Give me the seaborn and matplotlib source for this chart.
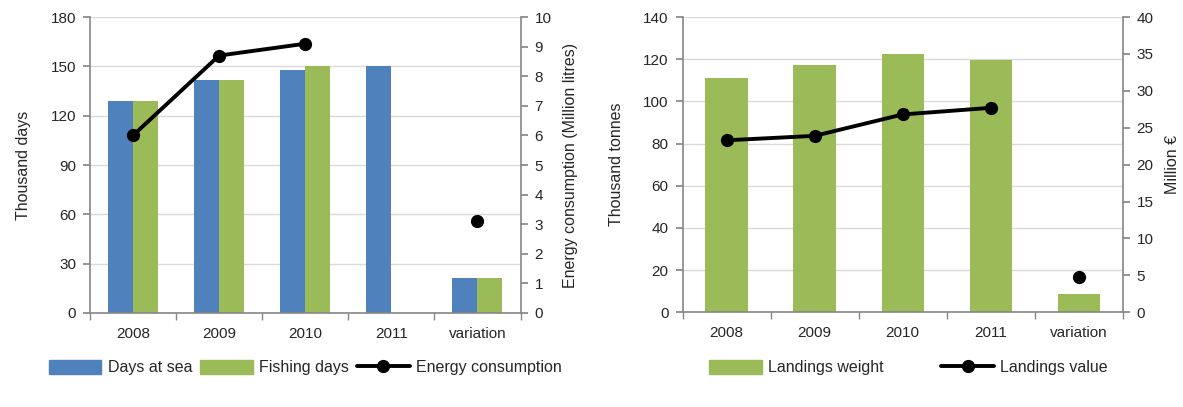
import numpy as np
import pandas as pd
import seaborn as sns
import matplotlib.pyplot as plt
from matplotlib.lines import Line2D
from matplotlib.patches import Patch

# data
categories = ['2008', '2009', '2010', '2011', 'variation']
days_at_sea = [129, 142, 148, 150, 21]
fishing_days = [129, 142, 150, np.nan, 21]
energy = [6.0, 8.7, 9.1, np.nan, np.nan]
energy_variation = 3.1

landings_weight = [111, 117.5, 122.5, 119.5, 8.5]
landings_value = [23.3, 23.9, 26.8, 27.7, np.nan]
value_variation = 4.7

blue = '#4F81BD'
green = '#9BBB59'
grid_col = '#D9D9D9'
spine_col = '#868686'

sns.set_theme(style='white')
plt.rcParams['font.family'] = ['Liberation Sans', 'DejaVu Sans']
plt.rcParams['font.size'] = 11

fig = plt.figure(figsize=(11.83, 4.07), dpi=100)
ax1 = fig.add_axes([0.076, 0.231, 0.364, 0.727])
ax3 = fig.add_axes([0.577, 0.233, 0.372, 0.725])


def style_axes(ax, ax2):
    ax.set_xlim(-0.5, 4.5)
    ax.grid(axis='y', color=grid_col, linewidth=1)
    ax.set_axisbelow(True)
    for s in ['top', 'right']:
        ax.spines[s].set_visible(False)
    for s in ['left', 'bottom']:
        ax.spines[s].set_color(spine_col)
        ax.spines[s].set_linewidth(1.2)
    for s in ['top', 'left', 'bottom']:
        ax2.spines[s].set_visible(False)
    ax2.spines['right'].set_color(spine_col)
    ax2.spines['right'].set_linewidth(1.2)
    ax.tick_params(axis='y', direction='out', length=5, color=spine_col,
                   left=True, labelsize=11, pad=5)
    ax2.tick_params(axis='y', direction='out', length=5, color=spine_col,
                    right=True, labelsize=11, pad=5)
    # excel-like ticks between categories
    ax.set_xticks(np.arange(-0.5, 5.0, 1.0), minor=True)
    ax.tick_params(axis='x', which='minor', direction='out', length=5,
                   color=spine_col, bottom=True)
    ax.tick_params(axis='x', which='major', length=0, labelsize=11, pad=10)
    ax.set_xlabel('')


# ---- left chart
df1 = pd.DataFrame({
    'category': categories * 2,
    'series': ['Days at sea'] * 5 + ['Fishing days'] * 5,
    'value': days_at_sea + fishing_days,
})
sns.barplot(data=df1, x='category', y='value', hue='series',
            palette=[blue, green], width=0.58, gap=0, saturation=1,
            linewidth=0, ax=ax1, legend=False)
ax1.set_ylim(0, 180)
ax1.set_yticks(np.arange(0, 181, 30))
ax1.set_ylabel('Thousand days', fontsize=11.5, labelpad=14)

ax2 = ax1.twinx()
x = np.arange(len(categories))
ax2.plot(x, energy, color='black', linewidth=2.8, marker='o', markersize=8.5)
ax2.plot([4], [energy_variation], color='black', marker='o', markersize=8.5,
         linestyle='none')
ax2.set_ylim(0, 10)
ax2.set_yticks(np.arange(0, 11, 1))
ax2.set_ylabel('Energy consumption (Million litres)', fontsize=11.5,
               labelpad=8)
style_axes(ax1, ax2)

h1 = [Patch(color=blue), Patch(color=green),
      Line2D([0], [0], color='black', linewidth=2.8, marker='o', markersize=8.5)]
fig.legend(h1, ['Days at sea', 'Fishing days', 'Energy consumption'],
           loc='center', bbox_to_anchor=(0.258, 0.096), ncol=3, frameon=False,
           fontsize=11.5, handlelength=3.3, handleheight=0.9,
           columnspacing=0.5, handletextpad=0.4)

# ---- right chart
df2 = pd.DataFrame({'category': categories, 'value': landings_weight})
sns.barplot(data=df2, x='category', y='value', color=green, width=0.48,
            saturation=1, linewidth=0, ax=ax3)
ax3.set_ylim(0, 140)
ax3.set_yticks(np.arange(0, 141, 20))
ax3.set_ylabel('Thousand tonnes', fontsize=11.5, labelpad=14)

ax4 = ax3.twinx()
ax4.plot(x, landings_value, color='black', linewidth=2.8, marker='o',
         markersize=8.5)
ax4.plot([4], [value_variation], color='black', marker='o', markersize=8.5,
         linestyle='none')
ax4.set_ylim(0, 40)
ax4.set_yticks(np.arange(0, 41, 5))
ax4.set_ylabel('Million €', fontsize=11.5, labelpad=8)
style_axes(ax3, ax4)

h2 = [Patch(color=green),
      Line2D([0], [0], color='black', linewidth=2.8, marker='o', markersize=8.5)]
fig.legend(h2, ['Landings weight', 'Landings value'],
           loc='center', bbox_to_anchor=(0.768, 0.096), ncol=2, frameon=False,
           fontsize=11.5, handlelength=3.3, handleheight=0.9,
           columnspacing=3.6, handletextpad=0.4)

plt.savefig('out.png', dpi=100)
